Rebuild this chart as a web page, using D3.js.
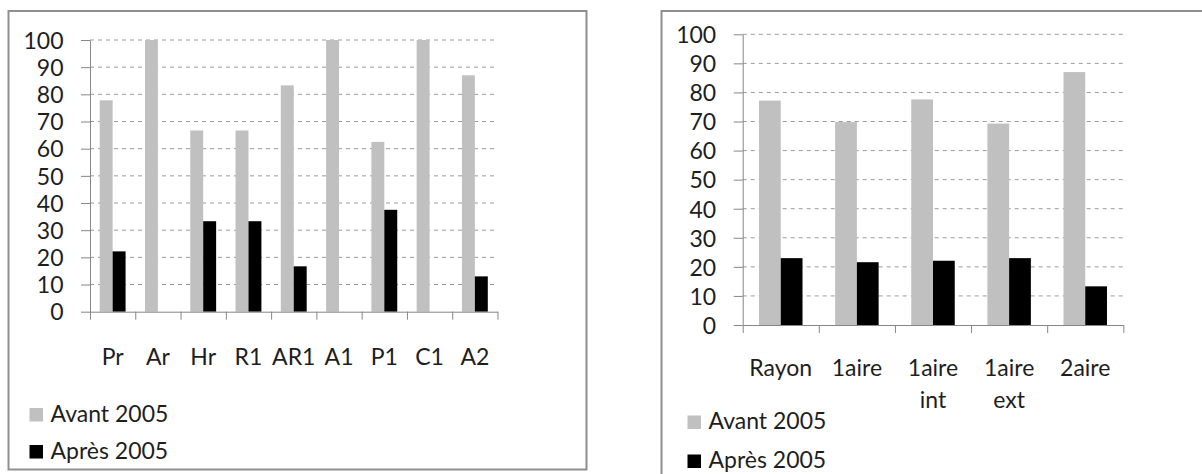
<!DOCTYPE html>
<html>
<head>
<meta charset="utf-8">
<script src="https://cdn.jsdelivr.net/npm/d3@7"></script>
<style>
  html, body { margin: 0; padding: 0; background: #ffffff; }
  svg { display: block; }
  text { font-family: Lato, "Open Sans", sans-serif; fill: #1e1e1e; }
</style>
</head>
<body>
<svg id="chart" width="1202" height="474"></svg>
<script>
// Left panel: share of each structure before / after 2005 (%)
const categoriesA = ["Pr", "Ar", "Hr", "R1", "AR1", "A1", "P1", "C1", "A2"];
const avantA = [77.8, 100, 66.7, 66.7, 83.3, 100, 62.5, 100, 87.0];
const apresA = [22.2, 0, 33.3, 33.3, 16.7, 0, 37.5, 0, 13.0];

// Right panel: grouped by position
const categoriesB = ["Rayon", "1aire", "1aire int", "1aire ext", "2aire"];
const avantB = [77.2, 69.8, 77.6, 69.3, 87.0];
const apresB = [23.0, 21.6, 22.1, 23.0, 13.3];

const seriesNames = ["Avant 2005", "Après 2005"];
const yTicks = [0, 10, 20, 30, 40, 50, 60, 70, 80, 90, 100];

const seriesColors = ["#c0c0c0", "#000000"];
const FONT = 23;

const svg = d3.select("#chart");

function drawPanel(opt) {
  const g = svg.append("g");

  // outer frame
  g.append("rect")
    .attr("x", opt.frame[0]).attr("y", opt.frame[1])
    .attr("width", opt.frame[2]).attr("height", opt.frame[3])
    .attr("fill", "#ffffff")
    .attr("stroke", "#8f8f8f")
    .attr("stroke-width", 2);

  const n = opt.categories.length;
  const y = d3.scaleLinear().domain([0, 100]).range([opt.yBottom, opt.yTop]);
  const xCat = d3.scaleBand().domain(opt.categories).range([opt.xLeft, opt.xRight]).padding(0);
  const xSer = d3.scaleBand().domain(seriesNames).range([0, xCat.bandwidth()])
    .paddingInner(0).paddingOuter(0.75);
  const xEdge = d3.scaleLinear().domain([0, n]).range([opt.xLeft, opt.xRight]);

  // dashed gridlines
  g.append("g")
    .selectAll("line")
    .data(yTicks.filter(t => t > 0))
    .join("line")
    .attr("x1", opt.xLeft).attr("x2", opt.xRight)
    .attr("y1", d => y(d)).attr("y2", d => y(d))
    .attr("stroke", "#9a9a9a")
    .attr("stroke-width", 1)
    .attr("stroke-dasharray", "4,4");

  // bars
  const rows = opt.categories.map((c, i) => ({ cat: c, values: [opt.avant[i], opt.apres[i]] }));
  g.append("g")
    .selectAll("g")
    .data(rows)
    .join("g")
    .attr("transform", d => `translate(${xCat(d.cat)},0)`)
    .selectAll("rect")
    .data(d => d.values.map((v, k) => ({ name: seriesNames[k], v, k })))
    .join("rect")
    .attr("x", d => xSer(d.name))
    .attr("width", xSer.bandwidth())
    .attr("y", d => y(d.v))
    .attr("height", d => y(0) - y(d.v))
    .attr("fill", d => seriesColors[d.k]);

  // value axis
  const yAxis = g.append("g")
    .attr("transform", `translate(${opt.xLeft},0)`)
    .call(d3.axisLeft(y).tickValues(yTicks).tickSize(9).tickSizeOuter(0).tickPadding(17.5));
  yAxis.selectAll("path, line").attr("stroke", "#868686");
  yAxis.selectAll("text")
    .attr("font-size", FONT)
    .attr("font-family", "Lato, 'Open Sans', sans-serif")
    .attr("fill", "#1e1e1e")
    .attr("dy", "0.36em");

  // category axis: boundary ticks
  const xAxis = g.append("g")
    .attr("transform", `translate(0,${opt.yBottom})`)
    .call(d3.axisBottom(xEdge).tickValues(d3.range(n + 1)).tickSize(8).tickSizeOuter(0).tickFormat(""));
  xAxis.selectAll("path, line").attr("stroke", "#868686");

  // category labels
  const lab = g.append("g")
    .attr("transform", `translate(0,${opt.yBottom})`)
    .call(d3.axisBottom(xCat).tickSize(0));
  lab.select(".domain").remove();
  lab.selectAll("text").each(function (d) {
    const t = d3.select(this);
    const parts = opt.wrap ? d.split(" ") : [d];
    t.text(null)
      .attr("font-size", FONT)
      .attr("font-family", "Lato, 'Open Sans', sans-serif")
      .attr("fill", "#1e1e1e")
      .attr("y", opt.labelBaseline - opt.yBottom)
      .attr("dy", null);
    parts.forEach((p, i) => {
      t.append("tspan")
        .attr("x", 0)
        .attr("y", opt.labelBaseline - opt.yBottom + i * 32)
        .text(p);
    });
  });

  // legend
  const leg = g.append("g")
    .selectAll("g")
    .data(seriesNames)
    .join("g")
    .attr("transform", (d, i) => `translate(${opt.legendX},${opt.legendY[i]})`);
  leg.append("rect")
    .attr("x", 0).attr("y", -13.5)
    .attr("width", 13.5).attr("height", 13.5)
    .attr("fill", (d, i) => seriesColors[i]);
  leg.append("text")
    .attr("x", 21)
    .attr("y", 0)
    .attr("font-size", FONT)
    .text(d => d);
}

drawPanel({
  frame: [8.5, 11, 578, 458.5],
  categories: categoriesA, avant: avantA, apres: apresA,
  xLeft: 90, xRight: 497.5, yTop: 40, yBottom: 311.7,
  labelBaseline: 365, wrap: false,
  legendX: 29.5, legendY: [421.5, 458.5]
});

drawPanel({
  frame: [661.5, 11, 560, 480],
  categories: categoriesB, avant: avantB, apres: apresB,
  xLeft: 742.7, xRight: 1123.3, yTop: 34.3, yBottom: 325,
  labelBaseline: 376, wrap: true,
  legendX: 687.5, legendY: [429, 468]
});
</script>
</body>
</html>
